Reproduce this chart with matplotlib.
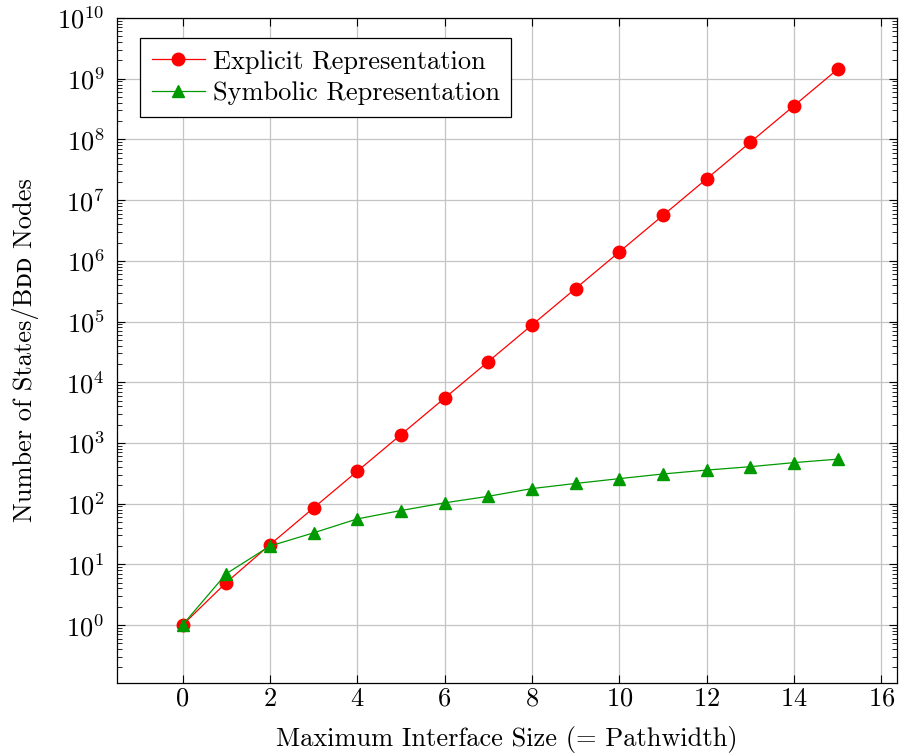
import matplotlib
matplotlib.use('Agg')
import matplotlib.pyplot as plt
from matplotlib.ticker import LogLocator, NullFormatter

plt.rcParams['font.family'] = ['cmr10', 'DejaVu Serif']
plt.rcParams['mathtext.fontset'] = 'cm'
plt.rcParams['axes.formatter.use_mathtext'] = True

pathwidth = list(range(16))
explicit = [1, 5, 21, 85, 341, 1365, 5461, 21845, 87381, 349525, 1398101,
            5592405, 22369621, 89478485, 357913941, 1431655765]
symbolic = [1, 7, 20, 33, 56, 77, 103, 132, 177, 215, 258, 308, 357, 406, 474, 540]
xticks = list(range(0, 17, 2))
yticks = [10.0 ** k for k in range(11)]

FS = 19

fig = plt.figure(figsize=(8.99, 7.54), dpi=100)
ax = fig.add_axes([117 / 899, 1 - 683 / 754, (897 - 117) / 899, (683 - 18) / 754])

ax.plot(pathwidth, explicit, color='red', marker='o', ms=9, lw=0.9,
        label='Explicit Representation', zorder=3)
ax.plot(pathwidth, symbolic, color='#009900', marker='^', ms=8.5, lw=0.9,
        label='Symbolic Representation', zorder=3)

ax.set_yscale('log')
ax.set_xlim(-1.5, 16.36)
ax.set_ylim(0.111, 1e10)
ax.set_xticks(xticks)
ax.set_yticks(yticks)
ax.yaxis.set_minor_locator(LogLocator(base=10, subs=range(2, 10), numticks=50))
ax.yaxis.set_minor_formatter(NullFormatter())

ax.grid(True, which='major', color='#c4c4c4', lw=0.9, zorder=0)
ax.set_axisbelow(True)
ax.tick_params(direction='in', which='both', top=True, right=True, labelsize=FS)
ax.tick_params(which='major', length=6, width=0.8)
ax.tick_params(axis='y', which='major', pad=9)
ax.tick_params(axis='x', which='major', pad=3)
ax.tick_params(which='minor', length=3.5, width=0.6)
for s in ax.spines.values():
    s.set_linewidth(0.9)

ax.set_xlabel('Maximum Interface Size (= Pathwidth)', fontsize=FS, labelpad=11)
ax.set_ylabel('Number of States/Bᴅᴅ Nodes', fontsize=FS, labelpad=13)

leg = ax.legend(loc='upper left', bbox_to_anchor=(0.0294, 0.970), borderaxespad=0,
                fancybox=False, edgecolor='black', framealpha=1, fontsize=FS,
                handlelength=2.0, borderpad=0.45, labelspacing=0.3, handletextpad=0.3)
leg.get_frame().set_linewidth(0.9)

fig.savefig('out.png', dpi=100)
